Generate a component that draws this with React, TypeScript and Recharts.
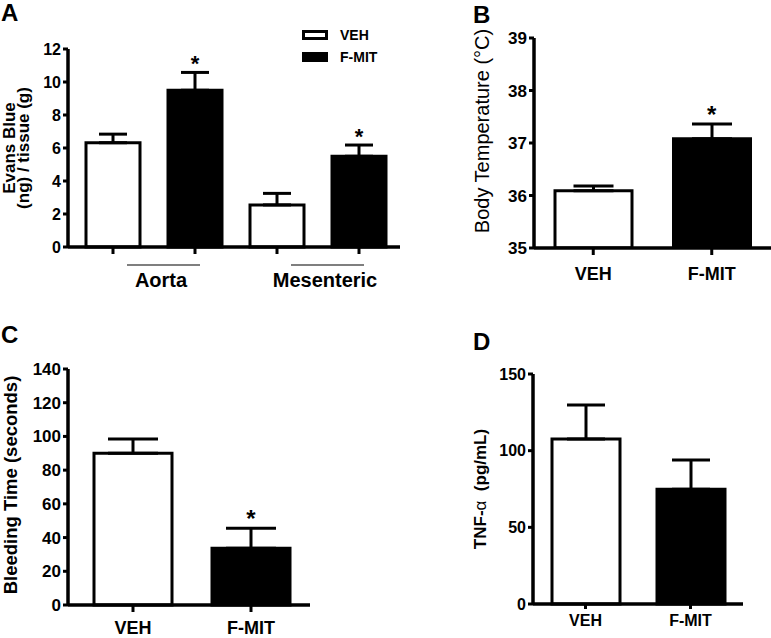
import React from "react"
import { ComposedChart, Bar, Line, Cell, XAxis, YAxis, ErrorBar, Legend } from "recharts"

const FONT = '"Liberation Sans", Arial, Helvetica, sans-serif'
const INK = "#000"

// A – Evans Blue, four columns grouped by tissue
const evansNames = ["Aorta VEH", "Aorta F-MIT", "Mesenteric VEH", "Mesenteric F-MIT"]
const evansTissue = ["Aorta", "Aorta", "Mesenteric", "Mesenteric"]
const evansTreatment = ["VEH", "F-MIT", "VEH", "F-MIT"]
const evansMean = [6.32, 9.5, 2.55, 5.5]
const evansSem = [0.52, 1.08, 0.7, 0.68]
const evansSig = [false, true, false, true]
const evansTicks = [0, 2, 4, 6, 8, 10, 12]

// B–D share the two treatment groups
const treatments = ["VEH", "F-MIT"]

const tempMean = [36.09, 37.08]
const tempSem = [0.09, 0.28]
const tempSig = [false, true]
const tempTicks = [35, 36, 37, 38, 39]

const bleedMean = [90, 33.6]
const bleedSem = [8.5, 11.9]
const bleedSig = [false, true]
const bleedTicks = [0, 20, 40, 60, 80, 100, 120, 140]

const tnfMean = [107.6, 74.8]
const tnfSem = [22.2, 19.1]
const tnfSig = [false, false]
const tnfTicks = [0, 50, 100, 150]

const legendNames = ["VEH", "F-MIT"]

const fillFor = (t: string) => (t === "VEH" ? "#fff" : "#000")

function buildRows(names: string[], treatment: string[], mean: number[], sem: number[], sig: boolean[], group?: string[]) {
  return names.map((name, i) => ({
    name,
    group: group ? group[i] : name,
    treatment: treatment[i],
    mean: mean[i],
    err: [0, sem[i]],
    star: sig[i] ? mean[i] + sem[i] : null,
  }))
}

const evansData = buildRows(evansNames, evansTreatment, evansMean, evansSem, evansSig, evansTissue)
const tempData = buildRows(treatments, treatments, tempMean, tempSem, tempSig)
const bleedData = buildRows(treatments, treatments, bleedMean, bleedSem, bleedSig)
const tnfData = buildRows(treatments, treatments, tnfMean, tnfSem, tnfSig)

// thick GraphPad-style axes
const AXIS_W = 3.5
const axisStyle = {
  stroke: INK,
  strokeWidth: AXIS_W,
  axisLine: { stroke: INK, strokeWidth: AXIS_W },
  tickLine: { stroke: INK, strokeWidth: 3 },
}

const NumTick = (size: number, anchor: "end" | "middle") => (props: any) => {
  const { x, y, payload } = props
  return (
    <text
      x={x}
      y={y}
      dy={anchor === "end" ? "0.355em" : "0.71em"}
      textAnchor={anchor}
      fontSize={size}
      fontWeight={700}
      fontFamily={FONT}
      fill={INK}
    >
      {payload.value}
    </text>
  )
}

const starDot = (size: number) => (props: any) => {
  const { cx, cy, index, value } = props
  if (value == null || cy == null || Number.isNaN(cy)) return <g key={`s${index}`} />
  return (
    <text key={`s${index}`} x={cx} y={cy - 1} textAnchor="middle" fontSize={size} fontWeight={700} fontFamily={FONT} fill={INK}>
      *
    </text>
  )
}

type TitleSpec = { lines: React.ReactNode[]; size: number; weight: number; x: number; gap?: number; dy?: number }

const axisTitle = (spec: TitleSpec) => (props: any) => {
  const vb = props.viewBox
  const cy = vb.y + vb.height / 2 + (spec.dy ?? 0)
  return (
    <g>
      {spec.lines.map((line, i) => {
        const x = vb.x + spec.x + i * (spec.gap ?? 0)
        return (
          <text
            key={i}
            x={x}
            y={cy}
            transform={`rotate(-90 ${x} ${cy})`}
            textAnchor="middle"
            fontSize={spec.size}
            fontWeight={spec.weight}
            fontFamily={FONT}
            fill={INK}
          >
            {line}
          </text>
        )
      })}
    </g>
  )
}

const TissueTick = (props: any) => {
  const { x, y, payload } = props
  return (
    <g>
      <line x1={x - 27} x2={x + 46} y1={y + 10} y2={y + 10} stroke="#555" strokeWidth={1.5} />
      <text x={x + 7} y={y + 32} textAnchor="middle" fontSize={20} fontWeight={700} fontFamily={FONT} fill={INK}>
        {payload.value}
      </text>
    </g>
  )
}

const renderLegend = () => (
  <div style={{ fontFamily: FONT, fontWeight: 700, fontSize: 14, color: INK }}>
    {legendNames.map((n) => (
      <div key={n} style={{ display: "flex", alignItems: "center", height: 22 }}>
        <svg width={26} height={10} style={{ display: "block" }}>
          <rect x={1.5} y={1.5} width={23} height={7} fill={fillFor(n)} stroke={INK} strokeWidth={3} />
        </svg>
        <span style={{ marginLeft: 12 }}>{n}</span>
      </div>
    ))}
  </div>
)

function Bars({ size, cap, rows, star }: { size: number; cap: number; rows: any[]; star?: number }) {
  return [
    <Bar key="bar" dataKey="mean" barSize={size} stroke={INK} strokeWidth={3} isAnimationActive={false}>
      {rows.map((r, i) => (
        <Cell key={i} fill={fillFor(r.treatment)} />
      ))}
      <ErrorBar dataKey="err" width={cap} stroke={INK} strokeWidth={3} direction="y" isAnimationActive={false} />
    </Bar>,
    <Line
      key="star"
      dataKey="star"
      stroke="none"
      dot={starDot(star ?? 24)}
      activeDot={false}
      legendType="none"
      isAnimationActive={false}
    />,
  ]
}

function PanelLetter({ text, left, top }: { text: string; left: number; top: number }) {
  return (
    <div style={{ position: "absolute", left, top, fontFamily: FONT, fontWeight: 700, fontSize: 24, lineHeight: "28px", color: INK }}>
      {text}
    </div>
  )
}

export default function App() {
  return (
    <div style={{ position: "absolute", left: 0, top: 0, width: 771, height: 638, background: "#fff", overflow: "hidden" }}>
      {/* A */}
      <div style={{ position: "absolute", left: 0, top: 0 }}>
        <ComposedChart width={400} height={300} data={evansData} margin={{ top: 49, right: 0, bottom: 0, left: 0 }}>
          <XAxis
            dataKey="name"
            interval={0}
            height={8}
            tickSize={7}
            padding={{ left: 4, right: 0 }}
            {...axisStyle}
            tick={() => <g />}
          />
          <XAxis
            xAxisId="tissue"
            dataKey="group"
            allowDuplicatedCategory={false}
            interval={0}
            height={45}
            tickSize={0}
            tickMargin={0}
            padding={{ left: 4, right: 0 }}
            axisLine={false}
            tickLine={false}
            tick={TissueTick}
          />
          <YAxis
            width={68}
            domain={[0, 12]}
            ticks={evansTicks}
            interval={0}
            tickSize={5}
            tickMargin={2}
            {...axisStyle}
            tick={NumTick(16, "end")}
            label={axisTitle({ lines: ["Evans Blue", "(ng) / tissue (g)"], size: 17, weight: 700, x: 15, gap: 14 })}
          />
          <Legend
            layout="horizontal"
            verticalAlign="middle"
            align="center"
            wrapperStyle={{ left: 302, top: 24, width: 90 }}
            content={renderLegend}
          />
          {Bars({ size: 54, cap: 14, rows: evansData, star: 22 })}
        </ComposedChart>
      </div>
      <PanelLetter text="A" left={1} top={-1} />

      {/* B */}
      <div style={{ position: "absolute", left: 390, top: 0 }}>
        <ComposedChart width={381} height={300} data={tempData} margin={{ top: 38, right: 0, bottom: 0, left: 0 }}>
          <XAxis
            dataKey="name"
            interval={0}
            height={52}
            tickSize={7}
            tickMargin={12}
            {...axisStyle}
            tick={NumTick(18, "middle")}
          />
          <YAxis
            width={144}
            domain={[35, 39]}
            ticks={tempTicks}
            interval={0}
            allowDataOverflow
            tickSize={5}
            tickMargin={2}
            {...axisStyle}
            tick={NumTick(17, "end")}
            label={axisTitle({ lines: ["Body Temperature (°C)"], size: 20, weight: 400, x: 99, dy: -12 })}
          />
          {Bars({ size: 77, cap: 20, rows: tempData })}
        </ComposedChart>
      </div>
      <PanelLetter text="B" left={473} top={1} />

      {/* C */}
      <div style={{ position: "absolute", left: 0, top: 320 }}>
        <ComposedChart width={310} height={318} data={bleedData} margin={{ top: 49, right: 0, bottom: 0, left: 0 }}>
          <XAxis
            dataKey="name"
            interval={0}
            height={33}
            tickSize={7}
            tickMargin={9}
            padding={{ left: 6, right: 0 }}
            {...axisStyle}
            tick={NumTick(18, "middle")}
          />
          <YAxis
            width={68}
            domain={[0, 140]}
            ticks={bleedTicks}
            interval={0}
            tickSize={5}
            tickMargin={2}
            {...axisStyle}
            tick={NumTick(17, "end")}
            label={axisTitle({ lines: ["Bleeding Time (seconds)"], size: 18.5, weight: 700, x: 16.5, dy: -2 })}
          />
          {Bars({ size: 78, cap: 25, rows: bleedData })}
        </ComposedChart>
      </div>
      <PanelLetter text="C" left={1} top={321} />

      {/* D */}
      <div style={{ position: "absolute", left: 390, top: 320 }}>
        <ComposedChart width={353} height={318} data={tnfData} margin={{ top: 54, right: 0, bottom: 0, left: 0 }}>
          <XAxis
            dataKey="name"
            interval={0}
            height={34}
            tickSize={5}
            tickMargin={6}
            {...axisStyle}
            tick={NumTick(16, "middle")}
          />
          <YAxis
            width={143}
            domain={[0, 150]}
            ticks={tnfTicks}
            interval={0}
            tickSize={5}
            tickMargin={2}
            {...axisStyle}
            tick={NumTick(16, "end")}
            label={axisTitle({
              lines: [
                <>
                  TNF-<tspan fontWeight={400}>α</tspan>
                  {"\u00a0\u00a0(pg/mL)"}
                </>,
              ],
              size: 17,
              weight: 700,
              x: 96,
            })}
          />
          {Bars({ size: 68, cap: 19, rows: tnfData })}
        </ComposedChart>
      </div>
      <PanelLetter text="D" left={473} top={328} />
    </div>
  )
}
